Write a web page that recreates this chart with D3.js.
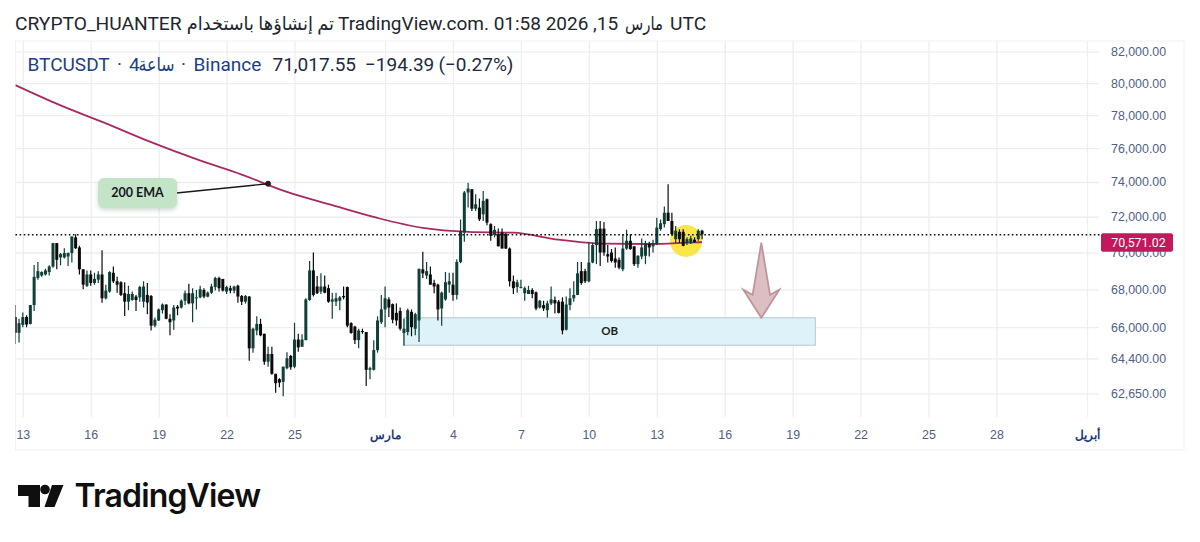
<!DOCTYPE html>
<html>
<head>
<meta charset="utf-8">
<script src="https://d3js.org/d3.v7.min.js"></script>
<style>
  html, body { margin: 0; padding: 0; background: #fff; }
  svg { display: block; font-family: Roboto, "DejaVu Sans", sans-serif; }
  .tick text { fill: #4f6088; font-size: 12.4px; }
  .tick text.month { fill: #1d3a78; font-weight: 700; }
  .grid line { stroke: #eceef1; stroke-width: 1.3; }
  .grid .domain { display: none; }
</style>
</head>
<body>
<svg id="chart"></svg>
<script>
// ----------------------------------------
//  Data (4h candles from Feb 12 16:00 UTC)
// ----------------------------------------
var opens = [
  66530,65710,66120,66530,66170,67160,68610,68740,68800,68930,
  69230,70520,69730,69730,69780,69970,70840,70280,69080,68190,
  68800,68340,68520,68800,67520,67880,68890,68430,68380,67790,
  67340,67430,67610,67570,67340,67700,67640,66080,66350,66890,
  67190,66440,66350,67070,67030,67390,67790,67250,67520,67570,
  67960,67610,67820,68120,68610,68560,67880,68060,67930,68190,
  67640,67340,
  67610,64910,65830,66170,65660,64230,64620,63620,63350,63220,
  63900,64520,63980,65360,64990,65330,67430,69020,68150,67880,
  68150,68060,67340,67340,67390,67640,68120,66210,66030,65330,
  65800,65750,63820,63820,64820,66260,66930,67460,67210,66750,
  66850,65700,65750,66800,65920,66350,69080,68740,68800,68340,
  68250,66980,67460,68250,68250,67700,69480,71110,73390,73580,
  72460,72520,
  72140,73000,71580,70980,71020,71110,71020,70220,68430,68120,
  68080,67790,67750,67960,67840,67030,67160,66890,67250,67430,
  67340,67340,65870,67160,67520,67700,68980,68980,68430,69450,
  70410,71330,71330,69910,70000,69670,69600,69080,70220,70650,
  70340,69360,69780,69820,70470,70340,70470,71300,71580,72230,
  71760,70740,71150,71150,70520,70520,70710,70740,71210
];
var highs = [
  67160,66440,66770,66620,67160,69320,69480,68980,69110,69300,
  70520,70520,69970,70240,70000,70890,71020,70370,69080,69020,
  69020,68890,68980,70130,68250,68980,69230,68670,68430,68380,
  68190,67880,67700,68190,68430,68340,67700,66500,66980,67250,
  67190,66680,67160,67160,67460,67930,68300,68060,67960,68190,
  68060,67880,68300,68670,68670,68560,68190,68190,68190,68250,
  67700,67700,
  67640,65970,66570,66440,65660,64990,64990,63620,63400,63980,
  64710,64570,66230,65660,65630,67520,69540,70000,68710,68860,
  68740,68250,67820,67820,67640,68150,68150,66260,66080,65920,
  65920,65750,63980,65330,66570,67700,68150,67570,67250,67250,
  67030,66440,66980,66930,66750,69110,70040,69480,69230,68520,
  68300,67880,68930,68890,68890,69630,71850,73480,73960,73580,
  73290,73040,
  73480,73040,71630,71480,71330,71330,71080,70280,68740,68520,
  68520,68150,68190,68060,67880,67430,67390,67390,68150,67610,
  67430,67570,67610,68060,68430,69480,69480,69110,70560,70520,
  71760,71760,71700,70410,70190,70280,69730,71020,71260,71020,
  70340,69850,70780,70650,70590,70710,71950,71850,72580,73870,
  72230,71480,71300,71300,70840,70930,70840,71300,71260
];
var lows = [
  65130,65210,66000,66000,66140,66850,68520,68670,68740,68740,
  69170,69080,69300,69670,69260,69450,70190,68800,68000,68120,
  68190,68250,68340,67280,67460,67820,68340,67820,67640,66590,
  66890,67390,66850,67340,67030,66680,65830,66000,66320,66710,
  66410,65580,65870,66620,66980,67160,67210,66260,66930,67520,
  67520,67570,67750,67930,67880,67880,67750,67790,67790,67280,
  67160,67250,
  64280,64690,65580,65530,64070,63980,63570,62680,62950,62510,
  63850,63820,63900,64740,64990,65330,67390,67610,67750,67750,
  67790,67280,66440,67110,66890,67460,66000,65660,65130,64910,
  65660,63010,63350,63780,64690,66170,66000,66530,66210,66080,
  65830,65040,65580,65530,65580,65240,68610,68560,68250,67790,
  66350,66080,67390,67820,67390,67460,69410,70590,72520,72330,
  72330,71760,
  71760,71520,70650,70840,70340,70220,70190,68150,67750,67820,
  68060,67390,67750,67520,66890,66980,66850,66500,67160,66710,
  66710,65630,65830,66890,67340,67700,68250,68340,68380,69410,
  69360,69260,69820,69450,69450,69170,69080,68980,70150,70150,
  69260,69170,69630,69360,69780,70000,70410,71210,71390,71760,
  70930,70520,70520,70340,70410,70470,70520,70650,70740
];
var closes = [
  65710,66210,66530,66140,67160,68670,68980,68930,69020,69230,
  70520,69600,69910,69970,69970,70890,70240,69080,68250,68800,
  68340,68560,68800,67520,67930,68930,68430,68250,67700,67340,
  67750,67750,67430,68120,68150,67300,66080,66390,66930,67190,
  66440,66260,67030,66980,67390,67790,67250,67790,67570,68000,
  67610,67820,68150,68610,68060,67930,68120,67930,68150,67610,
  67340,67640,
  64910,65920,66170,65580,64230,64620,63620,63150,63180,63980,
  64400,63950,65360,64960,65360,67460,69020,67700,67790,68150,
  67820,67340,67460,67520,67570,67570,66080,65700,65330,65830,
  65770,63820,63900,64820,66350,66930,67520,67030,66390,66350,
  65920,65920,66890,66000,66680,69110,68860,68980,68250,68150,
  66930,67820,68380,68430,67700,69480,71200,73390,73620,72460,
  72710,71850,
  72910,71670,70930,71260,70340,70220,70220,68430,68060,68380,
  68120,68060,67960,67750,66980,67390,66980,67250,67460,67250,
  66750,65830,67190,67520,67700,68860,68340,68430,69450,70410,
  71300,70000,70000,69780,69540,69450,69170,70220,70650,70190,
  69360,69820,70280,70520,70280,70520,71390,71630,72230,71760,
  71020,71210,70740,70370,70740,70780,70590,71210,71017.55
];

// 200 EMA, read every 12th candle
var emaIndex  = [0,12,24,36,48,60,72,84,96,108,120,132,144,156,168,180,182];
var emaValues = [79870,78600,77500,76360,75340,74430,73420,72660,71930,71370,71150,71100,70710,70490,70470,70560,70571.02];

var priceTicks = [82000,80000,78000,76000,74000,72000,70000,68000,66000,64400,62650];
var dayTicks = ["2026-02-13","2026-02-16","2026-02-19","2026-02-22","2026-02-25","2026-03-01","2026-03-04",
                "2026-03-07","2026-03-10","2026-03-13","2026-03-16","2026-03-19","2026-03-22","2026-03-25","2026-03-28","2026-04-01"];
var monthLabels = { "2026-03-01": "مارس", "2026-04-01": "أبريل" };

var lastClose = 71017.55;
var emaLast = 70571.02;

// title and legend come in pieces so each run sits where the picture has it
var titlePieces = [
  { text: "CRYPTO_HUANTER", x: 15, size: 19.2 },
  { text: "تم إنشاؤها باستخدام", x: 186.7, size: 18.5, length: 147.3 },
  { text: "TradingView.com. 01:58 2026 ,15", x: 338, size: 19 },
  { text: "مارس", x: 625, size: 18.5, length: 38 },
  { text: "UTC", x: 670, size: 19.2 }
];
var legendPieces = [
  { text: "BTCUSDT", x: 27.5, color: "#1d3f83" },
  { text: "·", x: 117, color: "#1d3f83" },
  { text: "4", x: 129, color: "#1d3f83" },
  { text: "ساعة", x: 138.5, color: "#1d3f83", length: 36 },
  { text: "·", x: 181, color: "#1d3f83" },
  { text: "Binance", x: 193.5, color: "#1d3f83" },
  { text: d3.format(',.2f')(lastClose), x: 272.5, color: "#1b2a44" },
  { text: "−194.39", x: 365, color: "#1b2a44" },
  { text: "(−0.27%)", x: 438.5, color: "#1b2a44" }
];

// ----------------------------------------
//  Sizing and scales
// ----------------------------------------
var width = 1200, height = 542;
var paneLeft = 15.5, paneTop = 41, paneRight = 1099, paneBottom = 417, outerRight = 1184, outerBottom = 450;

var svg = d3.select('#chart').attr('width', width).attr('height', height);

var parseDay = d3.utcParse('%Y-%m-%d');
var firstCandle = Date.UTC(2026, 1, 12, 16);
function candleTime(i) { return new Date(firstCandle + i * 4 * 3600 * 1000); }

var x = d3.scaleUtc()
    .domain([parseDay('2026-02-13'), parseDay('2026-04-01')])
    .range([22.8, 1087]);
var y = d3.scaleLog()
    .domain([62650, 82000])
    .range([393.3, 51.7]);

function cx(i) { return x(candleTime(i)); }

// frame
svg.append('rect')
    .attr('x', paneLeft).attr('y', paneTop)
    .attr('width', outerRight - paneLeft).attr('height', outerBottom - paneTop)
    .attr('fill', 'none').attr('stroke', '#eff1f3').attr('stroke-width', 1);

// grid
svg.append('g').attr('class', 'grid')
    .attr('transform', 'translate(' + paneLeft + ',0)')
    .call(d3.axisRight(y).tickValues(priceTicks).tickSize(paneRight - paneLeft).tickFormat(''));
svg.append('g').attr('class', 'grid')
    .attr('transform', 'translate(0,' + paneTop + ')')
    .call(d3.axisBottom(x).tickValues(dayTicks.map(parseDay)).tickSize(paneBottom - paneTop).tickFormat(''));

// axes
var yAxis = svg.append('g')
    .attr('transform', 'translate(' + paneRight + ',0)')
    .call(d3.axisRight(y).tickValues(priceTicks).tickSize(0).tickPadding(12).tickFormat(d3.format(',.2f')));
yAxis.select('.domain').remove();

var xAxis = svg.append('g')
    .attr('transform', 'translate(0,' + (paneBottom + 13) + ')')
    .call(d3.axisBottom(x).tickValues(dayTicks.map(parseDay)).tickSize(0).tickPadding(0)
      .tickFormat(function(d) {
        var key = d3.utcFormat('%Y-%m-%d')(d);
        return monthLabels[key] || d3.utcFormat('%-d')(d);
      }));
xAxis.select('.domain').remove();
xAxis.selectAll('text')
    .classed('month', function(d) { return !!monthLabels[d3.utcFormat('%Y-%m-%d')(d)]; });

// ----------------------------------------
//  Drawings under the candles
// ----------------------------------------
svg.append('clipPath').attr('id', 'pane').append('rect')
    .attr('x', paneLeft).attr('y', paneTop)
    .attr('width', paneRight - paneLeft).attr('height', paneBottom - paneTop);

var plot = svg.append('g').attr('clip-path', 'url(#pane)');

// order block
var obTop = 66490, obBottom = 65070, obFrom = 103, obTo = 212;
plot.append('rect')
    .attr('x', cx(obFrom)).attr('y', y(obTop))
    .attr('width', cx(obTo) - cx(obFrom)).attr('height', y(obBottom) - y(obTop))
    .attr('fill', '#def3f9').attr('stroke', '#b3c6ca').attr('stroke-width', 1);
plot.append('text')
    .attr('x', (cx(obFrom) + cx(obTo)) / 2).attr('y', y(Math.sqrt(obTop * obBottom)) + 4)
    .attr('text-anchor', 'middle')
    .attr('font-family', 'Lato, sans-serif').attr('font-weight', 700).attr('font-size', 11.5)
    .attr('fill', '#1b1f24').text('OB');

// yellow marker
plot.append('circle')
    .attr('cx', cx(177.75)).attr('cy', y(70640)).attr('r', 16)
    .attr('fill', '#fbe54a');

// ema
var emaLine = d3.line()
    .x(function(d, i) { return cx(emaIndex[i]); })
    .y(function(d) { return y(d); })
    .curve(d3.curveMonotoneX);
plot.append('path')
    .attr('d', emaLine(emaValues))
    .attr('fill', 'none').attr('stroke', '#a82a62').attr('stroke-width', 1.8);

// ----------------------------------------
//  Candles
// ----------------------------------------
var candles = plot.selectAll('g.candle').data(opens).enter().append('g').attr('class', 'candle');

function candleColor(d, i) { return closes[i] >= opens[i] ? '#0e3f38' : '#0b0b0b'; }

candles.append('line')
    .attr('x1', function(d, i) { return cx(i); })
    .attr('x2', function(d, i) { return cx(i); })
    .attr('y1', function(d, i) { return y(highs[i]); })
    .attr('y2', function(d, i) { return y(lows[i]); })
    .attr('stroke', candleColor).attr('stroke-width', 1.2);

candles.append('rect')
    .attr('x', function(d, i) { return cx(i) - 1.5; })
    .attr('width', 3)
    .attr('y', function(d, i) { return y(Math.max(opens[i], closes[i])); })
    .attr('height', function(d, i) { return Math.max(1, Math.abs(y(opens[i]) - y(closes[i]))); })
    .attr('fill', candleColor);

// last price line
svg.append('line')
    .attr('x1', paneLeft).attr('x2', paneRight + 2)
    .attr('y1', y(lastClose) + 0.5).attr('y2', y(lastClose) + 0.5)
    .attr('stroke', '#111').attr('stroke-width', 1.6).attr('stroke-dasharray', '1.6 2.5');

// ema price tag
var tagY = y(emaLast);
svg.append('rect')
    .attr('x', 1101).attr('y', tagY - 9).attr('width', 72).attr('height', 18.5).attr('rx', 2)
    .attr('fill', '#c5185c');
svg.append('text')
    .attr('x', 1138.5).attr('y', tagY + 4.5).attr('text-anchor', 'middle')
    .attr('fill', '#fff').attr('font-size', 12.4)
    .text(d3.format(',.2f')(emaLast));

// ----------------------------------------
//  Annotations on top
// ----------------------------------------
var emaDotIndex = 67, emaDotPrice = 73900, emaBoxIndex = 32.4, emaBoxPrice = 73360;
var boxX = cx(emaBoxIndex), boxY = y(emaBoxPrice);
svg.append('line')
    .attr('x1', boxX + 39).attr('y1', boxY)
    .attr('x2', cx(emaDotIndex)).attr('y2', y(emaDotPrice))
    .attr('stroke', '#15181c').attr('stroke-width', 1.4);
svg.append('circle')
    .attr('cx', cx(emaDotIndex)).attr('cy', y(emaDotPrice)).attr('r', 2.6)
    .attr('fill', '#3a1028').attr('stroke', '#1b1b1b').attr('stroke-width', 0.6);
svg.append('rect')
    .attr('x', boxX - 39.5).attr('y', boxY - 15).attr('width', 79).attr('height', 30).attr('rx', 6)
    .attr('fill', '#c4e4c8')
    .style('filter', 'drop-shadow(0 2px 2px rgba(120,140,120,0.35))');
svg.append('text')
    .attr('x', boxX).attr('y', boxY + 4.2).attr('text-anchor', 'middle')
    .attr('font-family', 'Lato, sans-serif').attr('font-weight', 700).attr('font-size', 12.5)
    .attr('fill', '#14181c').text('200 EMA');

// down arrow
var arrowIndex = 197.7, arrowTop = 70540, arrowTip = 66490;
var ax = cx(arrowIndex), aTop = y(arrowTop), aTip = y(arrowTip);
var arrowPoints = [[ax, aTop], [ax + 8.7, aTip - 23], [ax + 18, aTip - 28], [ax, aTip], [ax - 18, aTip - 28], [ax - 8.7, aTip - 23]];
svg.append('path')
    .attr('d', d3.line()(arrowPoints) + 'Z')
    .attr('fill', '#dcbfc2').attr('stroke', '#c0949a').attr('stroke-width', 1.8)
    .attr('stroke-linejoin', 'miter');

// ----------------------------------------
//  Text
// ----------------------------------------
function fitArabic(sel) {
  sel.filter(function(d) { return d.length; })
      .attr('textLength', function(d) { return d.length; })
      .attr('lengthAdjust', 'spacingAndGlyphs');
}

svg.selectAll('text.title').data(titlePieces).enter().append('text')
    .attr('class', 'title')
    .attr('x', function(d) { return d.x; })
    .attr('y', 30)
    .attr('font-size', function(d) { return d.size; })
    .attr('fill', '#22262e')
    .text(function(d) { return d.text; })
    .call(fitArabic);

svg.selectAll('text.legend').data(legendPieces).enter().append('text')
    .attr('class', 'legend')
    .attr('x', function(d) { return d.x; })
    .attr('y', 71)
    .attr('font-size', 19)
    .attr('fill', function(d) { return d.color; })
    .text(function(d) { return d.text; })
    .call(fitArabic);

// logo
var logo = svg.append('g').attr('fill', '#0f0f0f');
logo.append('path').attr('d', 'M18 485H40V507H28.5V496H18Z');
logo.append('circle').attr('cx', 45).attr('cy', 489.5).attr('r', 4.8);
logo.append('path').attr('d', 'M52 485H63.5L54.5 507H44.5Z');
logo.append('text')
    .attr('x', 74.5).attr('y', 507)
    .attr('font-family', 'Inter, sans-serif').attr('font-weight', 600).attr('font-size', 32)
    .attr('letter-spacing', -0.85)
    .text('TradingView');
</script>
</body>
</html>
